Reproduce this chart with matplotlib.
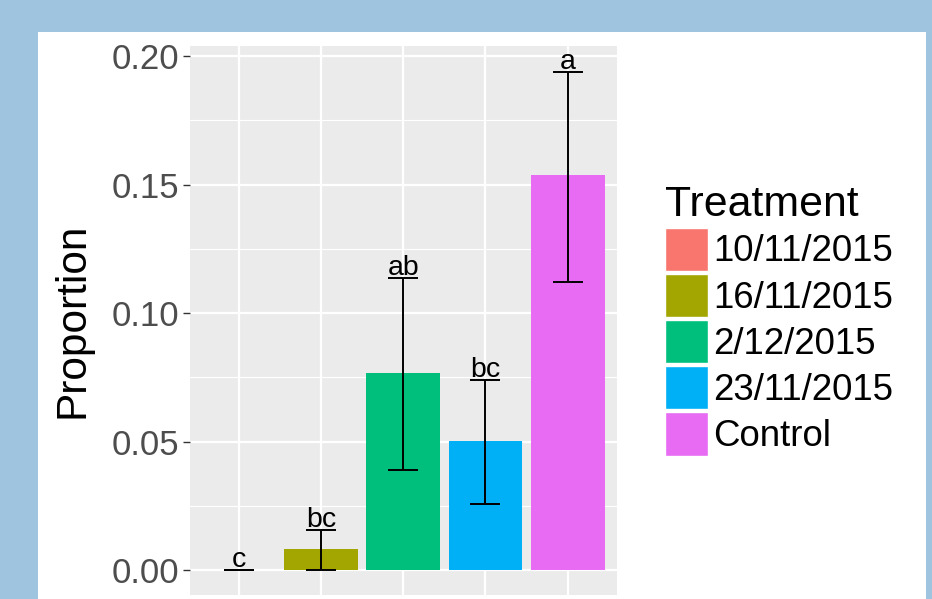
import numpy as np
import matplotlib.pyplot as plt
from matplotlib.patches import Patch, Rectangle

# data
treatments = ['10/11/2015', '16/11/2015', '2/12/2015', '23/11/2015', 'Control']
proportion = [0.0, 0.0082, 0.0767, 0.0502, 0.1537]
err_low = [0.0, 0.0, 0.0389, 0.0257, 0.1121]
err_high = [0.0, 0.0156, 0.1136, 0.0739, 0.1938]
letters = ['c', 'bc', 'ab', 'bc', 'a']
colors = ['#F8766D', '#A3A500', '#00BF7D', '#00B0F6', '#E76BF3']

plt.rcParams['font.family'] = ['Liberation Sans', 'DejaVu Sans']

fig = plt.figure(figsize=(9.32, 5.99), dpi=100)
fig.patch.set_facecolor('#9fc4df')
# white slide panel behind the chart
fig.patches.append(Rectangle((38/932, 0), 888/932, (599-32)/599, transform=fig.transFigure,
                             facecolor='white', edgecolor='none', zorder=-1))

ax = fig.add_axes([190/932, 4/599, 427/932, 549/599])
ax.set_facecolor('#EBEBEB')
x = np.arange(1, len(treatments)+1)

ax.bar(x, proportion, width=0.9, color=colors, zorder=2)
p = np.array(proportion)
ax.errorbar(x, p, yerr=[p - np.array(err_low), np.array(err_high) - p], fmt='none',
            ecolor='black', elinewidth=1.4, capsize=10.5, capthick=1.4, zorder=3)
for xi, top, lab in zip(x, err_high, letters):
    ax.annotate(lab, (xi, top), xytext=(0, 2), textcoords='offset points',
                ha='center', va='baseline', fontsize=20.5, color='black', zorder=4)

ax.set_xlim(0.405, 5.6)
ax.set_ylim(-0.0097, 0.2039)
ax.set_xticks(x)
ax.set_xticklabels([])
ax.set_yticks([0, 0.05, 0.10, 0.15, 0.20])
ax.set_yticklabels(['0.00', '0.05', '0.10', '0.15', '0.20'])
ax.set_yticks([0.025, 0.075, 0.125, 0.175], minor=True)
ax.grid(which='major', color='white', linewidth=1.6, zorder=1)
ax.grid(which='minor', axis='y', color='white', linewidth=0.8, zorder=1)
ax.set_axisbelow(True)
ax.tick_params(axis='y', which='major', length=5, width=1, color='#333333',
               labelsize=25, labelcolor='#4D4D4D', pad=3)
ax.tick_params(axis='x', length=0)
ax.tick_params(which='minor', length=0)
for s in ax.spines.values():
    s.set_visible(False)

ax.set_ylabel('Proportion', fontsize=30.5, va='center')
ax.yaxis.set_label_coords((73-190)/427, 0.5)

handles = [Patch(facecolor=c, edgecolor='white', linewidth=1) for c in colors]
leg = fig.legend(handles, treatments, title='Treatment', loc='upper left',
                 bbox_to_anchor=(665/932, 1 - 185/599), frameon=False,
                 fontsize=26.4, title_fontsize=30.8, borderpad=0, borderaxespad=0,
                 handlelength=1.17, handleheight=1.45, handletextpad=0.15,
                 labelspacing=0.07, alignment='left')

fig.savefig('out.png', dpi=100, facecolor=fig.get_facecolor())
